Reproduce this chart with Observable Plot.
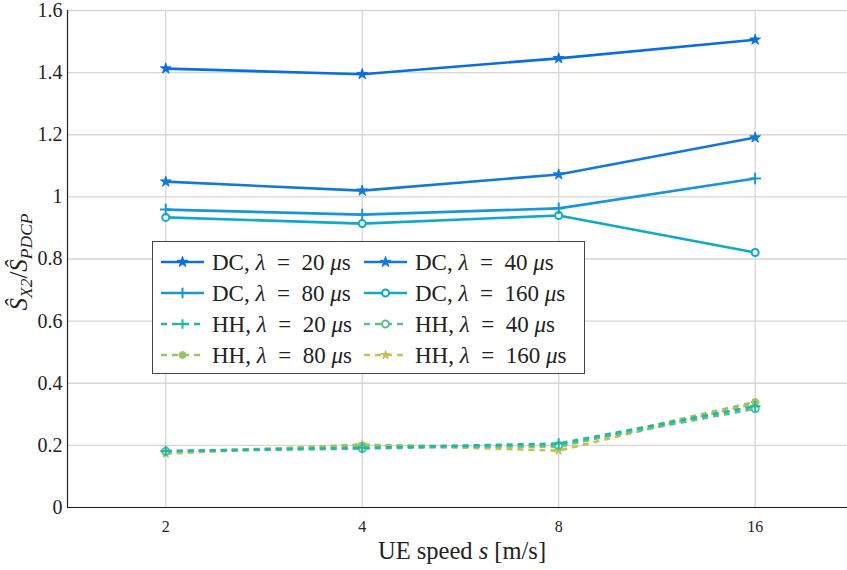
<!DOCTYPE html>
<html><head><meta charset="utf-8">
<script src="https://cdn.jsdelivr.net/npm/d3@7"></script>
<script src="https://cdn.jsdelivr.net/npm/@observablehq/plot@0.6"></script>
<style>body{margin:0;background:#fff}</style>
</head><body><div id="chart"></div>
<script>
const speeds = ["2", "4", "8", "16"];
const seriesNames = ["DC20", "DC40", "DC80", "DC160", "HH20", "HH40", "HH80", "HH160"];
const DC20 = [1.413, 1.395, 1.446, 1.506];
const DC40 = [1.049, 1.020, 1.072, 1.191];
const DC80 = [0.959, 0.943, 0.963, 1.059];
const DC160 = [0.934, 0.914, 0.940, 0.821];
const HH20 = [0.182, 0.192, 0.206, 0.326];
const HH40 = [0.181, 0.190, 0.200, 0.318];
const HH80 = [0.178, 0.200, 0.195, 0.340];
const HH160 = [0.173, 0.203, 0.183, 0.335];
const lambdas = ["20", "40", "80", "160", "20", "40", "80", "160"];
const yTicks = [0, 0.2, 0.4, 0.6, 0.8, 1, 1.2, 1.4, 1.6];

const colors = ["#0a6edd", "#1479d6", "#1896d8", "#0eaac6", "#1fb8a4", "#5cc08c", "#97c566", "#c9bd58"];
const symbols = ["star", "star", "plus", "circle", "plus", "circle", "circle", "star"];
const symFill = [true, true, false, false, false, false, true, true];
const symR = [3.4, 3.4, 3.8, 3.5, 3.5, 3.5, 3.5, 2.8];
const values = [DC20, DC40, DC80, DC160, HH20, HH40, HH80, HH160];

const rows = [];
seriesNames.forEach((s, i) => values[i].forEach((v, j) => rows.push({series: s, si: i, xi: j + 1, v})));

const marks = [
  Plot.gridX([1, 2, 3, 4], {stroke: "#d6d6d6", strokeOpacity: 1, strokeWidth: 1.3}),
  Plot.gridY(yTicks, {stroke: "#d6d6d6", strokeOpacity: 1, strokeWidth: 1.3}),
];
const order = [7, 6, 5, 4, 3, 2, 1, 0];
order.forEach(i => {
  const d = rows.filter(r => r.si === i);
  const dashed = i >= 4;
  marks.push(Plot.line(d, {x: "xi", y: "v", stroke: colors[i], strokeWidth: 2.6,
    strokeDasharray: dashed ? "6,5" : null, strokeLinecap: "butt"}));
  marks.push(Plot.dot(d, {x: "xi", y: "v", symbol: symbols[i], r: symR[i],
    fill: symFill[i] ? colors[i] : "white", stroke: colors[i], strokeWidth: symFill[i] ? 0.9 : 2}));
});
marks.push(Plot.ruleX([0.5], {stroke: "#222", strokeWidth: 1.2}));
marks.push(Plot.ruleY([0], {stroke: "#222", strokeWidth: 1.2}));

const font = "'Liberation Serif', 'Times New Roman', serif";
const plot = Plot.plot({
  width: 847, height: 570,
  marginLeft: 67, marginRight: 0, marginTop: 10, marginBottom: 63,
  style: {background: "white", fontFamily: font},
  x: {domain: [0.5, 4.47], label: null},
  y: {domain: [0, 1.6], label: null},
  marks: [
    Plot.axisX([1, 2, 3, 4], {tickFormat: i => speeds[i - 1], tickSize: 0, tickPadding: 13, fontSize: 16, label: null, fill: "#222"}),
    Plot.axisY(yTicks, {tickFormat: d => String(d), tickSize: 0, tickPadding: 5, fontSize: 20, label: null, fill: "#222"}),
    ...marks
  ]
});
document.getElementById("chart").appendChild(plot);

const svg = d3.select(plot);
// x label
const xl = svg.append("text").attr("x", 462).attr("y", 559).attr("text-anchor", "middle")
  .attr("font-size", 24.5).attr("fill", "#222");
xl.append("tspan").text("UE speed ");
xl.append("tspan").attr("font-style", "italic").text("s");
xl.append("tspan").text(" [m/s]");
// y label
const yl = svg.append("text").attr("transform", "translate(27,262) rotate(-90)").attr("text-anchor", "middle")
  .attr("font-size", 25).attr("fill", "#222");
yl.append("tspan").attr("font-style", "italic").text("Ŝ");
yl.append("tspan").attr("font-style", "italic").attr("font-size", 17.5).attr("dy", 4.5).text("X2");
yl.append("tspan").attr("dy", -4.5).text("/");
yl.append("tspan").attr("font-style", "italic").text("Ŝ");
yl.append("tspan").attr("font-style", "italic").attr("font-size", 17.5).attr("dy", 4.5).text("PDCP");

// legend
const lg = svg.append("g");
lg.append("rect").attr("x", 152.5).attr("y", 241.5).attr("width", 432).attr("height", 132)
  .attr("fill", "white").attr("stroke", "#444").attr("stroke-width", 1);
const sym = {star: d3.symbolStar, plus: d3.symbolPlus, circle: d3.symbolCircle};
seriesNames.forEach((s, i) => {
  const col = i % 2, row = Math.floor(i / 2);
  const x0 = col === 0 ? 161 : 364, yy = 262 + row * 31;
  lg.append("line").attr("x1", x0).attr("x2", x0 + 43).attr("y1", yy).attr("y2", yy)
    .attr("stroke", colors[i]).attr("stroke-width", 2.6).attr("stroke-dasharray", i >= 4 ? "6,5" : null);
  const r = symR[i];
  lg.append("path").attr("transform", `translate(${x0 + 21.5},${yy})`)
    .attr("d", d3.symbol(sym[symbols[i]], Math.PI * r * r * (symbols[i] === "plus" ? 0.8 : 1))())
    .attr("fill", symFill[i] ? colors[i] : "white").attr("stroke", colors[i]).attr("stroke-width", symFill[i] ? 0.9 : 2);
  const t = lg.append("text").attr("x", x0 + 51).attr("y", yy + 7.5).attr("text-anchor", "start")
    .attr("font-size", 23).attr("fill", "#222");
  t.append("tspan").text((i < 4 ? "DC" : "HH") + ", ");
  t.append("tspan").attr("font-style", "italic").text("λ");
  t.append("tspan").text("\u2002=\u2002" + lambdas[i] + " ");
  t.append("tspan").attr("font-style", "italic").text("μ");
  t.append("tspan").text("s");
});
svg.selectAll("text, tspan").style("font-family", font);
</script></body></html>
